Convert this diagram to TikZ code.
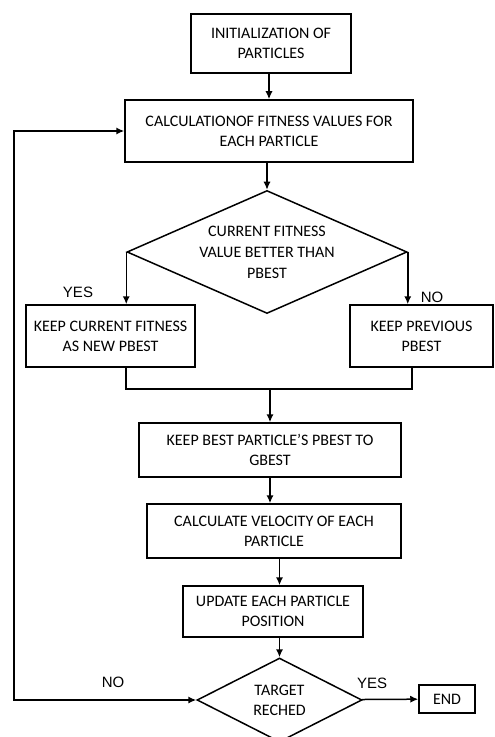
\documentclass[tikz,border=0pt]{standalone}
\usepackage{fontspec}
\setmainfont{Carlito}
\newfontfamily\answerfont{Liberation Sans}
\usetikzlibrary{arrows.meta,positioning,shapes.geometric}
\tikzset{
  flow/.style={-{Latex[length=4pt,width=3.6pt]}, line width=0.75pt, draw=black},
  loopback/.style={{Latex[length=4pt,width=3.6pt]}-{Latex[length=4pt,width=3.6pt]}, line width=0.75pt, draw=black},
  link/.style={line width=0.75pt, draw=black},
  stage/.style={draw=black, fill=white, line width=0.75pt, align=center, inner sep=2pt,
                font=\fontsize{8}{10}\selectfont},
  check/.style={diamond, draw=black, fill=white, line width=0.75pt, align=center, inner sep=0pt,
                font=\fontsize{8}{10.5}\selectfont},
  answer/.style={inner sep=0pt, font=\answerfont\fontsize{7.5}{9}\selectfont},
}
\begin{document}
\begin{tikzpicture}[x=0.5pt,y=-0.5pt]
    \useasboundingbox (0,0) rectangle (494,737);
    \node[stage,minimum width=80pt,minimum height=29.5pt] (init) at (271,43.5) {INITIALIZATION OF\\PARTICLES};
    \node[stage,minimum width=144pt,minimum height=31pt] (calc) at (269,131) {CALCULATIONOF FITNESS VALUES FOR\\EACH PARTICLE};
    \node[check,minimum width=140pt,minimum height=61.5pt,aspect=2.28] (cmp) at (267,252) {CURRENT FITNESS\\VALUE BETTER THAN\\PBEST};
    \node[stage,minimum width=84.5pt,minimum height=31pt] (keepnew) at (110.5,336) {KEEP CURRENT FITNESS\\AS NEW PBEST};
    \node[stage,minimum width=71.5pt,minimum height=31pt] (keepold) at (421.5,336) {KEEP PREVIOUS\\PBEST};
    \node[stage,minimum width=131pt,minimum height=27pt] (gbest) at (270,450) {KEEP BEST PARTICLE'S PBEST TO\\GBEST};
    \node[stage,minimum width=127pt,minimum height=27pt] (vel) at (274,531) {CALCULATE VELOCITY OF EACH\\PARTICLE};
    \node[stage,minimum width=90pt,minimum height=25.5pt] (upd) at (273,611.5) {UPDATE EACH PARTICLE\\POSITION};
    \node[check,minimum width=82.5pt,minimum height=42pt,aspect=1.96,font=\fontsize{8}{10}\selectfont] (target) at (279.5,700) {TARGET\\RECHED};
    \node[stage,minimum width=28pt,minimum height=14pt] (finish) at (447,699) {END};
    % yes / no labels
    \node[answer] (yesA) at (78,292) {YES};
    \node[answer] (noA) at (432,297) {NO};
    \node[answer] (noB) at (113,682) {NO};
    \node[answer] (yesB) at (372,683) {YES};
    % connectors
    \coordinate (joinL) at (126,389);
    \coordinate (joinR) at (412,389);
    \coordinate (back) at (14,700);
    \draw[flow] (calc.north |- init.south) -- (calc.north);
    \draw[flow] (cmp.north |- calc.south) -- (cmp.north);
    \draw[flow] (cmp.west) -- (cmp.west |- keepnew.north);
    \draw[flow] (cmp.east) -- (cmp.east |- keepold.north);
    \draw[link] (keepnew.south -| joinL) -- (joinL) -- (joinR) -- (keepold.south -| joinR);
    \draw[flow] (joinL -| gbest.north) -- (gbest.north);
    \draw[flow] (gbest.south) -- (gbest.south |- vel.north);
    \draw[flow] (target.north |- vel.south) -- (target.north |- upd.north);
    \draw[flow] (target.north |- upd.south) -- (target.north);
    \draw[flow] (target) -- (finish);
    \draw[loopback] (target.west) -- (back) |- (calc.west);
  \end{tikzpicture}
\end{document}
